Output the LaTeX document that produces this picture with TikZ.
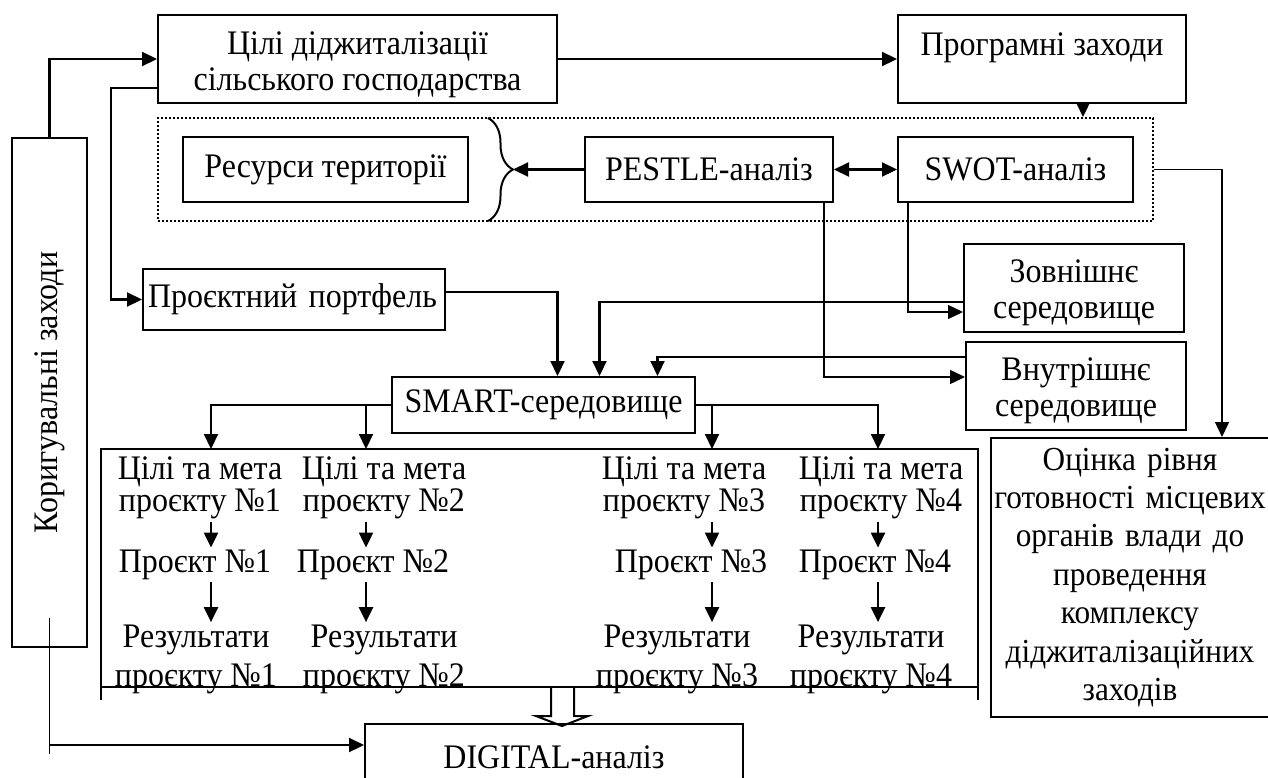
\documentclass[tikz,border=0pt]{standalone}
\usepackage{fontspec}
\setmainfont[FakeStretch=0.93]{Liberation Serif}
\usetikzlibrary{arrows.meta, positioning, decorations.pathreplacing}

\newcommand{\upstrut}{\rule{0pt}{16.5pt}}

\begin{document}
\begin{tikzpicture}[x=0.5pt, y=-0.5pt,
    every node/.style={font=\fontsize{17.2}{18}\selectfont},
    box/.style={draw, line width=1pt, inner sep=2pt, align=center},
    txt/.style={inner sep=1pt, align=center},
    arr/.style={-{Triangle[length=7.5pt, width=7pt]}, line width=1.1pt},
    arrt/.style={-{Triangle[length=7.5pt, width=7pt]}, line width=0.7pt},
    arrs/.style={{Triangle[length=7.5pt, width=7pt]}-{Triangle[length=7.5pt, width=7pt]}, line width=1.1pt},
    ln/.style={line width=0.7pt}]
    \useasboundingbox (0,0) rectangle (1268,777);

    % Top row
    \node[box, minimum width=199.5pt, minimum height=44pt] (goals) at (357.5,59)
        {\rule{0pt}{17pt}Цілі діджиталізації\\сільського господарства};
    \node[box, minimum width=144pt, minimum height=44pt] (prog) at (1042,59)
        {Програмні заходи\rule[-14.5pt]{0pt}{14.5pt}};

    % Analysis zone
    \node[draw, densely dotted, line width=1pt, minimum width=497.5pt, minimum height=51.5pt] (zone) at (655.5,169.5) {};
    \node[box, minimum width=142.5pt, minimum height=32.5pt] (res) at (325.5,169.5) {Ресурси території};
    \node[box, minimum width=124pt, minimum height=32.5pt] (pestle) at (709,169.5) {PESTLE-аналіз};
    \node[box, minimum width=117.5pt, minimum height=32.5pt] (swot) at (1015.5,169.5) {SWOT-аналіз};
    \draw[decorate, decoration={brace, amplitude=12.5pt}, line width=1pt] (488,118) -- (488,221);
    \coordinate (tip) at (513,169.5);

    % Environment
    \node[box, minimum width=110pt, minimum height=44pt] (zovn) at (1074,288) {\upstrut Зовнішнє\\середовище};
    \node[box, minimum width=110pt, minimum height=44pt] (vnut) at (1076,386) {\upstrut Внутрішнє\\середовище};

    \node[box, minimum width=151pt, minimum height=30.5pt, text width=146pt, align=left] (portf) at (294,299.5) {Проєктний портфель};
    \node[box, minimum width=151.5pt, minimum height=28pt] (smart) at (543.5,405) {SMART-середовище};
    \node[box, minimum width=37.5pt, minimum height=254.5pt] (korig) at (49.5,392.5) {\rotatebox{90}{Коригувальні заходи}};
    \node[box, minimum width=139pt, minimum height=139.5pt, text width=137pt, inner xsep=0.5pt, font=\fontsize{16.8}{19.2}\selectfont] (ocinka) at (1130,577.5)
        {Оцінка рівня\\готовності місцевих\\органів влади до\\проведення\\комплексу\\діджиталізаційних\\заходів};
    \node[box, minimum width=189pt, minimum height=33pt] (digital) at (554,757) {DIGITAL-аналіз};

    % Projects
    \draw[line width=1pt] (101,700) -- (101,449) -- (978,449) -- (978,700);
    \draw[line width=1pt] (551,687) -- (551,716) -- (536,716) -- (562,726) -- (588,716) -- (574,716) -- (574,687);
    \draw[line width=1pt] (101,687) -- (978,687);
    \foreach \n/\x in {1/211, 2/366, 3/712, 4/878}
        \coordinate (c\n) at (\x,449);
    \foreach \n/\g/\p/\r in {1/200/195/196, 2/384/373/384, 3/684/691/677, 4/881/875/871} {
        \node[txt, font=\fontsize{17.2}{16}\selectfont] (g\n) at (\g,488) {Цілі та мета\\проєкту №\n};
        \node[txt] (p\n) at (\p,565) {Проєкт №\n};
        \node[txt, font=\fontsize{17.2}{19.5}\selectfont] (r\n) at (\r,659) {Результати\\проєкту №\n};
        \draw[arr] (g\n.south -| c\n) -- (p\n.north -| c\n);
        \draw[arr] (p\n.south -| c\n) -- (r\n.north -| c\n);
    }

    % Connectors
    \draw[arr] (korig.north) |- (goals.west);
    \draw[arr] (goals.east) -- (prog.west);
    \draw[arr] ([yshift=-14.5pt]goals.west) -- ++(-46,0) |- (portf.west);
    \draw[arr] ([xshift=20.5pt]prog.south) -- ([xshift=20.5pt]prog.south |- zone.north);
    \draw[arrs] (pestle.east) -- (swot.west);
    \draw[arr] (pestle.west) -- (tip);
    \draw[arrt] (zone.east) -| ([xshift=46pt]ocinka.north);
    \draw[arrt] ([xshift=5.5pt]swot.south west) |- ([yshift=-12pt]zovn.west);
    \draw[arrt] ([xshift=-5pt]pestle.south east) |- ([yshift=4.5pt]vnut.west);
    \draw[arr] ([yshift=-7pt]zovn.west) -| ([xshift=28pt]smart.north);
    \draw[arr] ([yshift=14.5pt]vnut.west) -| ([xshift=57pt]smart.north);
    \draw[arr] ([yshift=3.75pt]portf.east) -| ([xshift=7pt]smart.north);
    \draw[arr] (smart.west) -| (c1);
    \draw[arr] (smart.west -| c2) -- (c2);
    \draw[arr] (smart.east) -| (c4);
    \draw[arr] (smart.east -| c3) -- (c3);
    \draw[ln] ([yshift=15pt]korig.south) -- ++(0,136);
    \draw[arr] (korig.south |- 0,745) -- (digital.west |- 0,745);
\end{tikzpicture}
\end{document}
